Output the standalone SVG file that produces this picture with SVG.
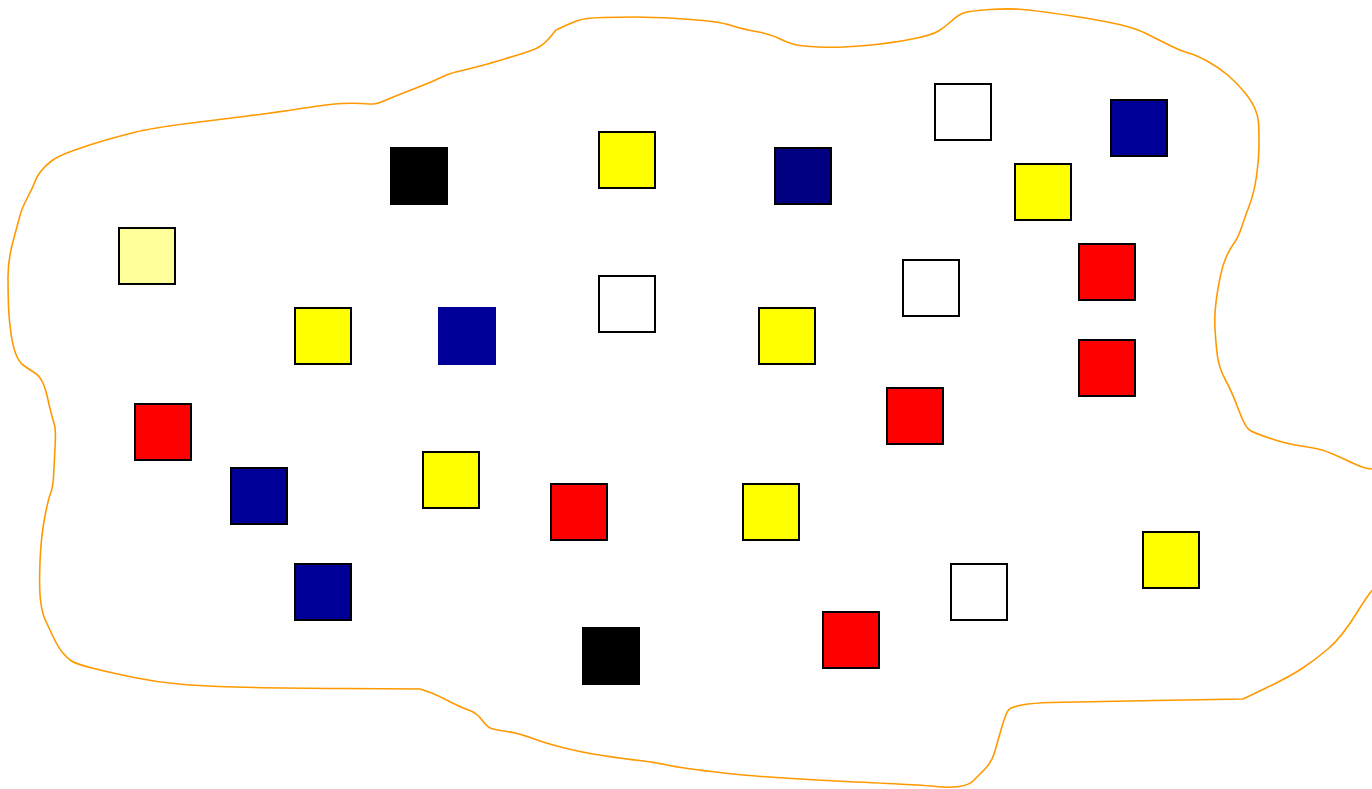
<svg xmlns="http://www.w3.org/2000/svg" width="1372" height="789" viewBox="0 0 1372 789">
<style>
.sq{stroke:#000;stroke-width:2}
.ns{stroke:none}
.y{fill:#FFFF00}.ly{fill:#FFFF99}.r{fill:#FF0000}.b{fill:#000099}.n{fill:#000080}.w{fill:#FFFFFF}.k{fill:#000000}
.blob{fill:none;stroke:#FF9900;stroke-width:1.6;stroke-linejoin:round;stroke-linecap:round}
</style>
<rect width="1372" height="789" fill="#FFFFFF"/>
<g id="region"><path class="blob" d="M549,38.5 L556,30 L563.5,26.5 Q571,23 578,20.5 Q585,18 602.5,17.5 Q620,17 636,17 Q652,17 676,18.5 Q700,20 712,21.5 Q724,23 733,26 Q742,29 756,31.5 Q770,34 778,38 Q786,42 792.5,44 Q799,46 819,47 Q839,48 865.5,45.5 Q892,43 912,39 Q932,35 938.5,31 Q945,27 951.5,21 Q958,15 963.5,13 Q969,11 990,9.5 Q1011,8 1028.5,10 Q1046,12 1072.5,16 Q1099,20 1117,24 Q1135,28 1146,33.5 Q1157,39 1169,45 Q1181,51 1188.5,53 Q1196,55 1207,61 Q1218,67 1227,74.5 Q1236,82 1243.5,91 Q1251,100 1254.5,107.5 Q1258,115 1258.5,122.5 Q1259,130 1259,145 Q1259,160 1256.5,176.5 Q1254,193 1249.5,205 Q1245,217 1241.5,227.5 Q1238,238 1233.5,244 Q1229,250 1225,260 Q1221,270 1217.5,291.5 Q1214,313 1215,329 Q1216,345 1217.5,356.5 Q1219,368 1225.5,380 Q1232,392 1238.5,409.5 Q1245,427 1249.5,430 Q1254,433 1270.5,438.5 Q1287,444 1301,446 Q1315,448 1322,450 Q1329,452 1346,460 Q1363,468 1367.5,468.5 Q1372,469 1378.5,469.5 Q1385,470 1385,525 Q1385,580 1378.5,584 Q1372,588 1357,612.5 Q1342,637 1328.5,648.5 Q1315,660 1302,668.5 Q1289,677 1266,688 L1243,699 L1155.5,700.5 Q1068,702 1050.5,702.5 Q1033,703 1022,705 Q1011,707 1008.5,710 Q1006,713 1002,726.5 Q998,740 995,751 Q992,762 984.5,769.5 Q977,777 973,781 Q969,785 959,786.5 Q949,788 936,786.5 Q923,785 845.5,781.5 Q768,778 724,773 Q680,768 667,765 Q654,762 639.5,760.5 Q625,759 602.5,755.5 Q580,752 562.5,747.5 Q545,743 531.5,738 Q518,733 507,731.5 Q496,730 491.5,728.5 Q487,727 482,720 Q477,713 468.5,710 Q460,707 447.5,700.5 Q435,694 427.5,691.5 L420,689 L344,688.5 Q268,688 234.5,687 Q201,686 178.5,684 Q156,682 134,677.5 Q112,673 94,668.5 Q76,664 71.5,661 Q67,658 62.5,652.5 Q58,647 53.5,637.5 Q49,628 45.5,620.5 Q42,613 40.5,600 Q39,587 40,562 Q41,537 44.5,518.5 Q48,500 50.5,493.5 Q53,487 53.5,477 Q54,467 55,448.5 Q56,430 54.5,425 Q53,420 51,412.5 Q49,405 47.5,397.5 Q46,390 43,383 Q40,376 33.5,372 Q27,368 23,365 Q19,362 16,354.5 Q13,347 11,333.5 Q9,320 8.5,306.5 Q8,293 8,276.5 Q8,260 13,241.5 Q18,223 20,215.5 Q22,208 27.5,197.5 Q33,187 35,181.5 Q37,176 41,171 Q45,166 51.5,161 Q58,156 73.5,150.5 Q89,145 102.5,141 Q116,137 134,132.5 Q152,128 187.5,123.5 Q223,119 247.5,116 Q272,113 301,108.5 Q330,104 341.5,103.5 Q353,103 361.5,103.5 Q370,104 373.5,104 Q377,104 385,100.5 Q393,97 411,90 Q429,83 435.5,80 Q442,77 446.5,75 Q451,73 462,70.5 Q473,68 482,65.5 Q491,63 504.5,59 Q518,55 530,51 Q542,47 549,38.5 Z"/></g>
<g id="connectors"></g>
<g id="n1"><rect class="k ns" x="390" y="147" width="58" height="58"/></g>
<g id="n2"><rect class="sq y" x="599" y="132" width="56" height="56"/></g>
<g id="n3"><rect class="sq n" x="775" y="148" width="56" height="56"/></g>
<g id="n4"><rect class="sq w" x="935" y="84" width="56" height="56"/></g>
<g id="n5"><rect class="sq b" x="1111" y="100" width="56" height="56"/></g>
<g id="n6"><rect class="sq y" x="1015" y="164" width="56" height="56"/></g>
<g id="n7"><rect class="sq ly" x="119" y="228" width="56" height="56"/></g>
<g id="n8"><rect class="sq y" x="295" y="308" width="56" height="56"/></g>
<g id="n9"><rect class="b ns" x="438" y="307" width="58" height="58"/></g>
<g id="n10"><rect class="sq w" x="599" y="276" width="56" height="56"/></g>
<g id="n11"><rect class="sq y" x="759" y="308" width="56" height="56"/></g>
<g id="n12"><rect class="sq w" x="903" y="260" width="56" height="56"/></g>
<g id="n13"><rect class="sq r" x="1079" y="244" width="56" height="56"/></g>
<g id="n14"><rect class="sq r" x="1079" y="340" width="56" height="56"/></g>
<g id="n15"><rect class="sq r" x="887" y="388" width="56" height="56"/></g>
<g id="n16"><rect class="sq r" x="135" y="404" width="56" height="56"/></g>
<g id="n17"><rect class="sq b" x="231" y="468" width="56" height="56"/></g>
<g id="n18"><rect class="sq y" x="423" y="452" width="56" height="56"/></g>
<g id="n19"><rect class="sq r" x="551" y="484" width="56" height="56"/></g>
<g id="n20"><rect class="sq y" x="743" y="484" width="56" height="56"/></g>
<g id="n21"><rect class="sq b" x="295" y="564" width="56" height="56"/></g>
<g id="n22"><rect class="k ns" x="582" y="627" width="58" height="58"/></g>
<g id="n23"><rect class="sq r" x="823" y="612" width="56" height="56"/></g>
<g id="n24"><rect class="sq w" x="951" y="564" width="56" height="56"/></g>
<g id="n25"><rect class="sq y" x="1143" y="532" width="56" height="56"/></g>
</svg>
